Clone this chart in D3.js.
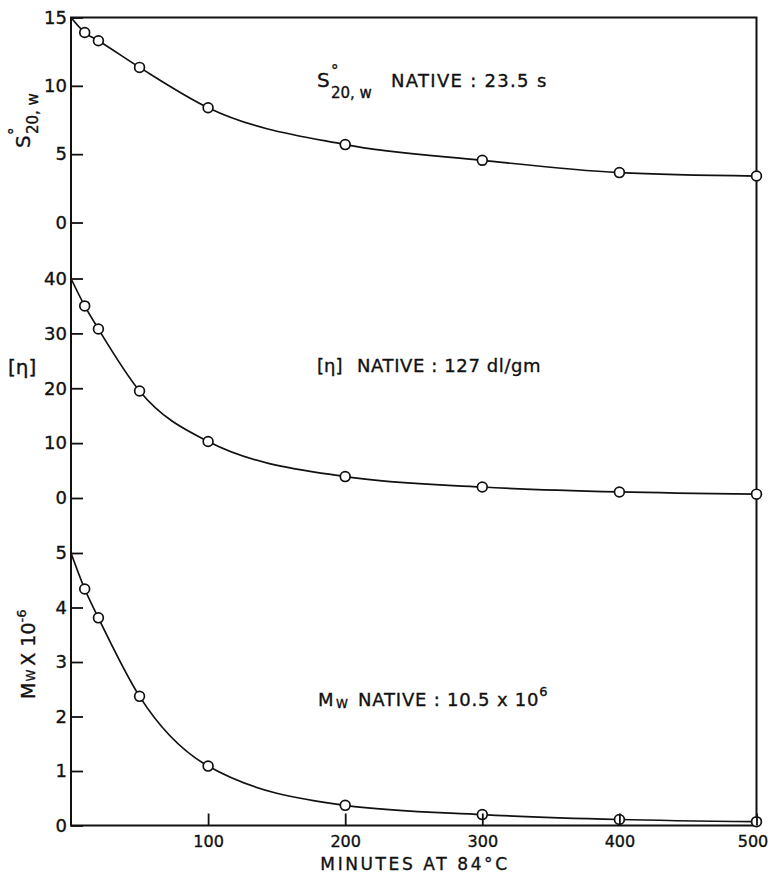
<!DOCTYPE html>
<html>
<head>
<meta charset="utf-8">
<script src="https://cdn.jsdelivr.net/npm/d3@7"></script>
<style>
  body { margin: 0; background: #fff; }
  svg text { font-family: "DejaVu Sans", sans-serif; fill: #111; stroke: #111; stroke-width: 0.35px; }
</style>
</head>
<body>
<svg width="771" height="881"></svg>
<script>
// heating time (minutes at 84 C) and the three measured quantities
var minutes = [10, 20, 50, 100, 200, 300, 400, 500];
var sedimentation = [13.9, 13.3, 11.35, 8.4, 5.7, 4.55, 3.65, 3.4];
var viscosity = [35.0, 30.8, 19.5, 10.3, 3.9, 2.0, 1.1, 0.7];
var molWeight = [4.34, 3.81, 2.37, 1.09, 0.37, 0.2, 0.11, 0.07];
// value where each drawn curve leaves the axis at t = 0 (no point there)
var curveStart = [15, 40, 5];

var sedTicks = [0, 5, 10, 15];
var viscTicks = [0, 10, 20, 30, 40];
var mwTicks = [0, 1, 2, 3, 4, 5];
var minuteTicks = [100, 200, 300, 400, 500];

var svg = d3.select("svg");
var plotL = 71, plotR = 756.5, plotT = 17.5, plotB = 825.5;

var x = d3.scaleLinear().domain([0, 500]).range([plotL, plotR]);

var panels = [
    { values: sedimentation, start: curveStart[0], ticks: sedTicks,
      y: d3.scaleLinear().domain([0, 15]).range([222.5, plotT]) },
    { values: viscosity, start: curveStart[1], ticks: viscTicks,
      y: d3.scaleLinear().domain([0, 40]).range([498, 278.5]) },
    { values: molWeight, start: curveStart[2], ticks: mwTicks,
      y: d3.scaleLinear().domain([0, 5]).range([plotB, 553]) }
];

// frame
svg.append("rect")
    .attr("x", plotL).attr("y", plotT)
    .attr("width", plotR - plotL).attr("height", plotB - plotT)
    .attr("fill", "none").attr("stroke", "#111").attr("stroke-width", 2);

function styleAxis(size) {
    return function(g) {
        g.attr("font-size", null).attr("font-family", null).attr("color", "#111");
        g.select(".domain").remove();
        g.selectAll(".tick line").attr("stroke-width", 1.8);
        g.selectAll(".tick text").style("font-size", size);
    };
}

panels.forEach(function(p) {
    svg.append("g")
        .attr("transform", "translate(" + plotL + ",0)")
        .call(d3.axisLeft(p.y).tickValues(p.ticks).tickSizeInner(-12)
              .tickSizeOuter(0).tickPadding(4).tickFormat(d3.format("d")))
        .call(styleAxis("18px"));

    var pts = [[0, p.start]].concat(minutes.map(function(m, i) { return [m, p.values[i]]; }));

    var line = d3.line()
        .x(d => x(d[0]))
        .y(d => p.y(d[1]))
        .curve(d3.curveMonotoneX);

    svg.append("path")
        .datum(pts)
        .attr("d", line)
        .attr("fill", "none")
        .attr("stroke", "#111")
        .attr("stroke-width", 1.7);

    svg.append("g").selectAll("circle")
        .data(pts.slice(1))
        .enter().append("circle")
        .attr("cx", d => x(d[0]))
        .attr("cy", d => p.y(d[1]))
        .attr("r", 4.9)
        .attr("fill", "#fff")
        .attr("stroke", "#111")
        .attr("stroke-width", 1.7);
});

var xAxisG = svg.append("g")
    .attr("transform", "translate(0," + plotB + ")")
    .call(d3.axisBottom(x).tickValues(minuteTicks).tickSizeInner(-12)
          .tickSizeOuter(0).tickPadding(10))
    .call(styleAxis("16px"));
// keep the last label inside the page
xAxisG.selectAll(".tick text").filter(d => d === 500).attr("dx", -4);

// x axis title
svg.append("text")
    .attr("x", 415).attr("y", 870)
    .attr("text-anchor", "middle")
    .style("font-size", "17px")
    .style("letter-spacing", "2.6px")
    .text("MINUTES AT 84°C");

// y axis titles
var sLab = svg.append("g").attr("transform", "translate(30,148) rotate(-90)");
sLab.append("text").attr("x", 0).attr("y", 0).style("font-size", "20px").text("S");
sLab.append("text").attr("x", 13).attr("y", -10).style("font-size", "15px").text("°");
sLab.append("text").attr("x", 14).attr("y", 8).style("font-size", "15px").text("20, w");

svg.append("text")
    .attr("x", 8).attr("y", 374)
    .style("font-size", "20px")
    .text("[η]");

var mLab = svg.append("g").attr("transform", "translate(35,699) rotate(-90)");
var mText = mLab.append("text").attr("x", 0).attr("y", 0).style("font-size", "19px");
mText.append("tspan").text("M");
mText.append("tspan").style("font-size", "12px").attr("dx", 1).text("W");
mText.append("tspan").attr("dx", 4).text("X 10");
mText.append("tspan").style("font-size", "13px").attr("dy", -9).text("-6");

// native values
var a1 = svg.append("g").attr("transform", "translate(317,87)");
a1.append("text").style("font-size", "20px").text("S");
a1.append("text").attr("x", 14).attr("y", -11).style("font-size", "15px").text("°");
a1.append("text").attr("x", 14).attr("y", 11).style("font-size", "15px").text("20, w");
a1.append("text").attr("x", 74).style("font-size", "18px").style("letter-spacing", "1.3px")
    .text("NATIVE : 23.5 s");

var a2 = svg.append("g").attr("transform", "translate(317,372)");
a2.append("text").style("font-size", "18px").text("[η]");
a2.append("text").attr("x", 40).style("font-size", "18px").style("letter-spacing", "0.6px")
    .text("NATIVE : 127 dl/gm");

var a3 = svg.append("g").attr("transform", "translate(318,706)");
a3.append("text").style("font-size", "18px").text("M");
a3.append("text").attr("x", 18).attr("y", 2).style("font-size", "12px").text("W");
var a3t = a3.append("text").attr("x", 40).style("font-size", "18px").style("letter-spacing", "0.8px");
a3t.append("tspan").text("NATIVE : 10.5 x 10");
a3t.append("tspan").style("font-size", "13px").attr("dy", -10).text("6");
</script>
</body>
</html>
